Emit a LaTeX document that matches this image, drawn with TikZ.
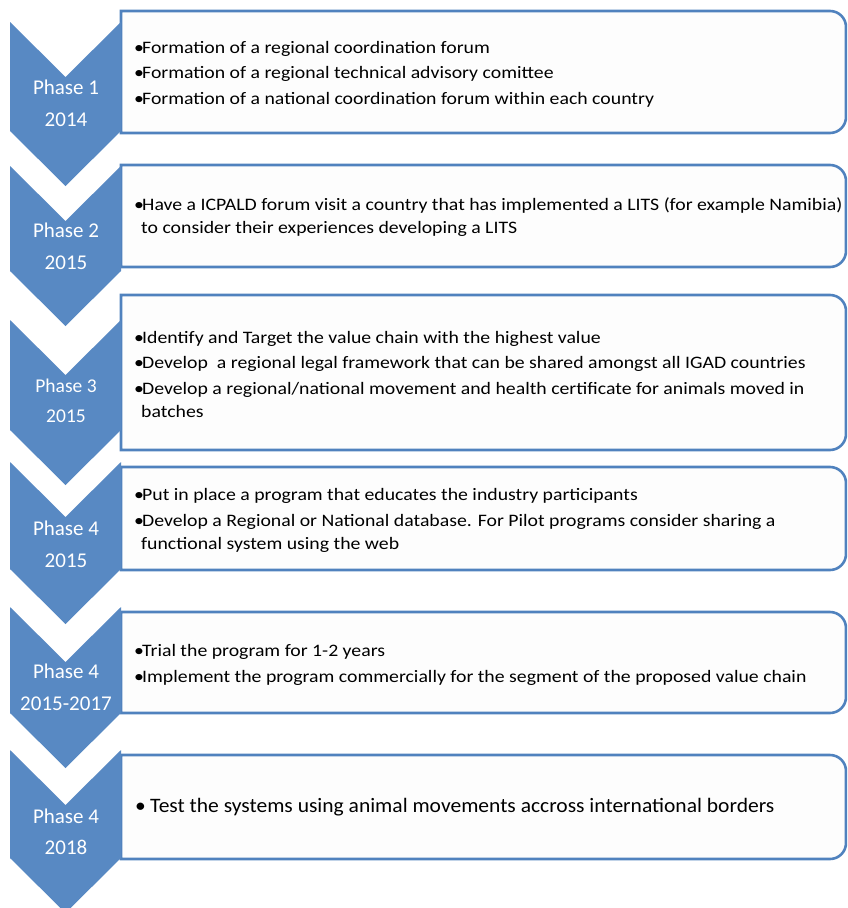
\documentclass[tikz,border=0pt]{standalone}
\usepackage{fontspec}
\setmainfont{Carlito}
\newfontfamily\boxfont[FakeStretch=1.13]{Carlito}
\newfontfamily\widefont[FakeStretch=1.05]{Carlito}
\definecolor{chev}{RGB}{88,137,195}
\definecolor{bord}{RGB}{80,130,190}
\definecolor{boxfill}{RGB}{253,253,253}
\tikzset{
  chevron/.style={fill=chev},
  boxframe/.style={draw=bord, line width=2.6pt, fill=boxfill},
  phase/.style={text=white, font=\fontsize{21}{21}\selectfont, inner sep=0pt, anchor=base},
  bullets/.style={anchor=base west, inner sep=0pt, align=left, font=\boxfont\fontsize{17.5}{23}\selectfont},
}
\newcommand\bul{\makebox[8pt][l]{•}}
\newcommand\cont{\hspace*{7pt}}
\begin{document}
\begin{tikzpicture}[x=1pt,y=-1pt]
\useasboundingbox (0,0) rectangle (847,908);
\clip (0,0) rectangle (847,908);
% boxes
\foreach \t/\b in {11/133,165/267,295/450,467/570,612/713,755/859}{
  \draw[boxframe] (121,\t) [rounded corners=16pt] -- (846,\t) -- (846,\b) [sharp corners] -- (121,\b) -- cycle;
}
% chevrons
\foreach \t/\b in {22/131,166/271,320/430,462/569,607/713,750/858}{
  \fill[chevron] (10,\t) -- (65.5,{\t+55}) -- (121,\t) -- (121,\b) -- (65.5,{\b+55}) -- (10,\b) -- cycle;
}
% phase labels
\node[phase] (p1) at (66,94) {Phase 1};
\node[phase] (y1) at (66,126) {2014};
\node[phase] (p2) at (66,237) {Phase 2};
\node[phase] (y2) at (66,269) {2015};
\node[phase, font=\fontsize{19.5}{19.5}\selectfont] (p3) at (66,392) {Phase 3};
\node[phase, font=\fontsize{19.5}{19.5}\selectfont] (y3) at (66,422) {2015};
\node[phase] (p4) at (66,535) {Phase 4};
\node[phase] (y4) at (66,567) {2015};
\node[phase] (p5) at (66,678) {Phase 4};
\node[phase] (y5) at (66,710) {2015-2017};
\node[phase] (p6) at (66,823) {Phase 4};
\node[phase] (y6) at (66,854) {2018};
% box texts (anchored at the baseline of their last line)
\node[bullets] (t1) at (134,104) {\bul Formation of a regional coordination forum\\[2.5pt]
\bul Formation of a regional technical advisory comittee\\[2.5pt]
\bul Formation of a national coordination forum within each country};
\node[bullets] (t2) at (134,233) {\bul Have a ICPALD forum visit a country that has implemented a LITS (for example Namibia)\\
\cont to consider their experiences developing a LITS};
\node[bullets] (t3) at (134,417) {\bul Identify and Target the value chain with the highest value\\[2.5pt]
\bul Develop\ \ a regional legal framework that can be shared amongst all IGAD countries\\[2.5pt]
\bul Develop a regional/national movement and health certificate for animals moved in\\
\cont batches};
\node[bullets] (t4) at (134,549) {\bul Put in place a program that educates the industry participants\\[2.5pt]
\bul Develop a Regional or National database. For Pilot programs consider sharing a\\
\cont functional system using the web};
\node[bullets] (t5) at (134,682) {\bul Trial the program for 1-2 years\\[2.5pt]
\bul Implement the program commercially for the segment of the proposed value chain};
\node[bullets, font=\widefont\fontsize{20.5}{23}\selectfont] (t6) at (135,812) {\makebox[15pt][l]{•}Test the systems using animal movements accross international borders};
\end{tikzpicture}
\end{document}
